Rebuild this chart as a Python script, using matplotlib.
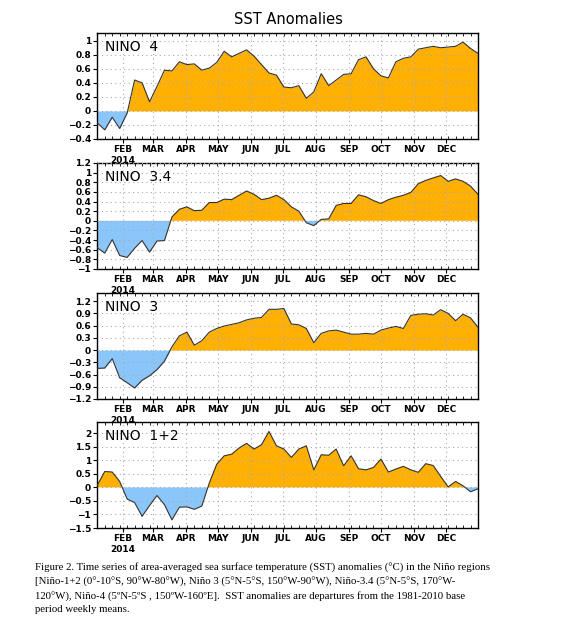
import numpy as np
import matplotlib
matplotlib.use("Agg")
import matplotlib.pyplot as plt
import matplotlib.dates as mdates

# ---- data (weekly, centred on Wednesdays, 2014) ----
start_date = "2014-01-08"
n_weeks = 52

nino4 = [-0.17, -0.27, -0.09, -0.25, -0.03, 0.44, 0.40, 0.13, 0.35, 0.58,
         0.57, 0.70, 0.66, 0.67, 0.58, 0.61, 0.69, 0.85, 0.77, 0.82,
         0.87, 0.78, 0.66, 0.54, 0.51, 0.34, 0.33, 0.36, 0.18, 0.27,
         0.53, 0.36, 0.44, 0.52, 0.53, 0.73, 0.77, 0.60, 0.50, 0.47,
         0.70, 0.75, 0.77, 0.88, 0.90, 0.92, 0.90, 0.91, 0.92, 0.98,
         0.89, 0.82]

nino34 = [-0.56, -0.67, -0.39, -0.72, -0.76, -0.57, -0.41, -0.65, -0.42, -0.41,
          0.08, 0.24, 0.29, 0.21, 0.22, 0.38, 0.38, 0.45, 0.44, 0.53,
          0.62, 0.55, 0.44, 0.47, 0.53, 0.44, 0.29, 0.20, -0.04, -0.10,
          0.03, 0.04, 0.32, 0.36, 0.36, 0.54, 0.50, 0.42, 0.36, 0.44,
          0.49, 0.53, 0.59, 0.77, 0.84, 0.89, 0.94, 0.82, 0.87, 0.82,
          0.72, 0.55]

nino3 = [-0.45, -0.44, -0.21, -0.68, -0.80, -0.93, -0.74, -0.63, -0.48, -0.27,
         0.08, 0.35, 0.44, 0.12, 0.23, 0.44, 0.53, 0.59, 0.63, 0.67,
         0.74, 0.78, 0.80, 1.00, 1.00, 1.02, 0.64, 0.62, 0.53, 0.18,
         0.41, 0.47, 0.49, 0.44, 0.39, 0.39, 0.41, 0.39, 0.49, 0.54,
         0.58, 0.53, 0.85, 0.88, 0.89, 0.86, 0.99, 0.90, 0.72, 0.88,
         0.79, 0.56]

nino12 = [0.08, 0.59, 0.57, 0.22, -0.43, -0.56, -1.07, -0.67, -0.30, -0.64,
          -1.20, -0.73, -0.72, -0.81, -0.69, 0.16, 0.86, 1.17, 1.23, 1.46,
          1.63, 1.42, 1.58, 2.07, 1.54, 1.42, 1.11, 1.42, 1.54, 0.65,
          1.21, 1.19, 1.42, 0.80, 1.17, 0.69, 0.65, 0.74, 1.05, 0.57,
          0.68, 0.78, 0.65, 0.56, 0.88, 0.81, 0.41, 0.02, 0.22, 0.06,
          -0.16, -0.05]

panel_names = ["NINO  4", "NINO  3.4", "NINO  3", "NINO  1+2"]
panel_data = [nino4, nino34, nino3, nino12]
panel_ylims = [(-0.4, 1.11), (-1.0, 1.2), (-1.2, 1.40), (-1.5, 2.42)]
panel_yticks = [
    [-0.4, -0.2, 0, 0.2, 0.4, 0.6, 0.8, 1],
    [-1, -0.8, -0.6, -0.4, -0.2, 0, 0.2, 0.4, 0.6, 0.8, 1, 1.2],
    [-1.2, -0.9, -0.6, -0.3, 0, 0.3, 0.6, 0.9, 1.2],
    [-1.5, -1, -0.5, 0, 0.5, 1, 1.5, 2],
]
month_labels = ["FEB\n2014", "MAR", "APR", "MAY", "JUN", "JUL", "AUG",
                "SEP", "OCT", "NOV", "DEC"]

dates = np.datetime64(start_date) + np.arange(n_weeks) * np.timedelta64(7, "D")
xd = mdates.date2num(dates.astype("datetime64[s]").astype(object))
month_ticks = [mdates.date2num(np.datetime64("2014-%02d-01" % m).astype("datetime64[s]").astype(object))
               for m in range(2, 13)]
minor_ticks = xd

ORANGE = "#FFB000"
BLUE = "#8AC6FA"

fig = plt.figure(figsize=(5.78, 6.2), dpi=100)
fig.text(288 / 578, 1 - 20 / 620, "SST Anomalies", ha="center", va="center",
         fontsize=10.5, family="DejaVu Sans")

left = 97.3 / 578
width = (478 - 97.3) / 578
tops = [33, 163, 293, 422]
h = 106 / 620

for k in range(4):
    ax = fig.add_axes([left, 1 - (tops[k] + 106) / 620, width, h])
    y = np.array(panel_data[k])
    ax.fill_between(xd, y, 0, where=y >= 0, interpolate=True, color=ORANGE,
                    linewidth=0, zorder=1)
    ax.fill_between(xd, y, 0, where=y <= 0, interpolate=True, color=BLUE,
                    linewidth=0, zorder=1)
    ax.plot(xd, y, color="#333333", linewidth=0.8, zorder=3)
    ax.set_xlim(xd[0], xd[-1])
    ax.set_ylim(*panel_ylims[k])
    ax.set_yticks(panel_yticks[k])
    ax.set_yticklabels([("%g" % v).replace("-", "\u2212") for v in panel_yticks[k]])
    ax.set_xticks(month_ticks)
    ax.set_xticklabels(month_labels)
    ax.set_xticks(minor_ticks, minor=True)
    ax.grid(True, which="major", color="#aaaaaa", linestyle=(0, (1, 3)),
            linewidth=0.8, zorder=2)
    ax.set_axisbelow(False)
    for lab in ax.get_xticklabels() + ax.get_yticklabels():
        lab.set_fontweight("bold")
        lab.set_fontsize(6.5)
    ax.tick_params(axis="both", which="major", length=3, width=0.8, pad=1.5,
                   direction="out")
    ax.tick_params(axis="x", which="minor", length=2, width=0.6,
                   direction="in", top=True, bottom=True)
    for sp in ax.spines.values():
        sp.set_linewidth(1.0)
    ax.text(0.02, 0.93, panel_names[k], transform=ax.transAxes, ha="left",
            va="top", fontsize=10, zorder=5)

caption = ("Figure 2. Time series of area-averaged sea surface temperature (SST) anomalies (\u00b0C) in the Ni\u00f1o regions\n"
           "[Ni\u00f1o-1+2 (0\u00b0-10\u00b0S, 90\u00b0W-80\u00b0W), Ni\u00f1o 3 (5\u00b0N-5\u00b0S, 150\u00b0W-90\u00b0W), Ni\u00f1o-3.4 (5\u00b0N-5\u00b0S, 170\u00b0W-\n"
           "120\u00b0W), Ni\u00f1o-4 (5\u00baN-5\u00baS , 150\u00baW-160\u00baE].  SST anomalies are departures from the 1981-2010 base\n"
           "period weekly means.")
fig.text(35 / 578, 1 - 563 / 620, caption, ha="left", va="top", fontsize=7.75,
         family="Liberation Serif", linespacing=1.55)

fig.savefig("out.png", dpi=100)
